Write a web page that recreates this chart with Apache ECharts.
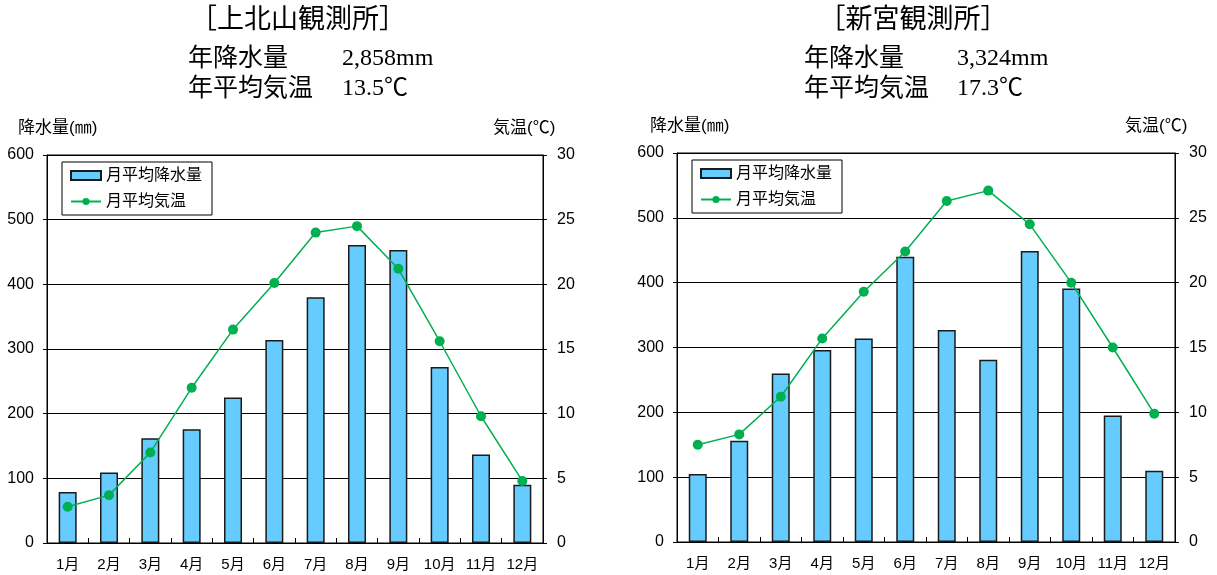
<!DOCTYPE html>
<html>
<head>
<meta charset="utf-8">
<script src="https://cdn.jsdelivr.net/npm/echarts@6/dist/echarts.min.js"></script>
<style>
  html, body { margin: 0; padding: 0; background: #fff; }
  #chart { width: 1217px; height: 575px; }
</style>
</head>
<body>
<div id="chart"></div>
<script>
// Monthly climate normals for two stations
const months = ['1月', '2月', '3月', '4月', '5月', '6月', '7月', '8月', '9月', '10月', '11月', '12月'];

// 上北山観測所
const kamikitayamaRain = [79, 109, 162, 176, 225, 314, 380, 461, 453, 272, 137, 90];   // mm
const kamikitayamaTemp = [2.8, 3.7, 7.0, 12.0, 16.5, 20.1, 24.0, 24.5, 21.2, 15.6, 9.8, 4.8]; // ℃

// 新宮観測所
const shinguRain = [105, 156, 260, 296, 314, 440, 327, 281, 449, 391, 195, 110];        // mm
const shinguTemp = [7.5, 8.3, 11.2, 15.7, 19.3, 22.4, 26.3, 27.1, 24.5, 20.0, 15.0, 9.9]; // ℃

// Header text for each station
const stationNames = ['［上北山観測所］', '［新宮観測所］'];
const annualRainText = ['2,858mm', '3,324mm'];
const annualTempText = ['13.5℃', '17.3℃'];

// Axis ranges
const rainMax = 600, rainStep = 100;
const tempMax = 30, tempStep = 5;

const rainName = '月平均降水量';
const tempName = '月平均気温';

const SERIF = '"Liberation Serif", "Noto Sans CJK JP", serif';
const SANS = '"Liberation Sans", "Noto Sans CJK JP", sans-serif';
const BAR_FILL = '#66CCFF';
const LINE_GREEN = '#00B050';

const grids = [
  { left: 47, top: 155, width: 496, height: 388 },
  { left: 677, top: 153, width: 498, height: 389 }
];

function header(cx, textX, numX, idx) {
  const base = { fill: '#000', fontFamily: SERIF, verticalAlign: 'middle' };
  return [
    { type: 'text', style: Object.assign({}, base, { text: stationNames[idx], x: cx, y: 21, fontSize: 27, align: 'center' }) },
    { type: 'text', style: Object.assign({}, base, { text: '年降水量', x: textX, y: 59, fontSize: 25, align: 'left' }) },
    { type: 'text', style: Object.assign({}, base, { text: annualRainText[idx], x: numX, y: 59, fontSize: 24, align: 'left' }) },
    { type: 'text', style: Object.assign({}, base, { text: '年平均気温', x: textX, y: 89, fontSize: 25, align: 'left' }) },
    { type: 'text', style: Object.assign({}, base, { text: annualTempText[idx], x: numX, y: 89, fontSize: 24, align: 'left' }) }
  ];
}

function axisTitle(text, x, y) {
  return { type: 'text', style: { text: text, x: x, y: y, fill: '#000', fontFamily: SANS, fontSize: 17, verticalAlign: 'middle', align: 'left' } };
}

function xAxisFor(gi) {
  return {
    type: 'category', gridIndex: gi, data: months, boundaryGap: true,
    axisLine: { lineStyle: { color: '#000', width: 1 } },
    axisTick: { show: true, inside: true, length: 5, lineStyle: { color: '#000' } },
    axisLabel: { color: '#000', fontFamily: SANS, fontSize: 15, margin: 14 }
  };
}

function rainAxisFor(gi) {
  return {
    type: 'value', gridIndex: gi, position: 'left', min: 0, max: rainMax, interval: rainStep,
    axisLine: { show: true, lineStyle: { color: '#000' } },
    axisTick: { show: true, length: 4, lineStyle: { color: '#000' } },
    axisLabel: { color: '#000', fontFamily: SANS, fontSize: 16, margin: 13 },
    splitLine: { show: true, lineStyle: { color: '#000', width: 1 } }
  };
}

function tempAxisFor(gi) {
  return {
    type: 'value', gridIndex: gi, position: 'right', min: 0, max: tempMax, interval: tempStep,
    axisLine: { show: true, lineStyle: { color: '#000' } },
    axisTick: { show: true, length: 4, lineStyle: { color: '#000' } },
    axisLabel: { color: '#000', fontFamily: SANS, fontSize: 16, margin: 14 },
    splitLine: { show: false }
  };
}

function legendFor(left, top) {
  return {
    left: left, top: top, orient: 'vertical',
    padding: [4, 10, 4, 8], itemGap: 7,
    itemWidth: 30, itemHeight: 9,
    borderColor: '#000', borderWidth: 1, borderRadius: 0,
    backgroundColor: '#fff',
    textStyle: { color: '#000', fontFamily: SANS, fontSize: 16, lineHeight: 19 },
    data: [{ name: rainName, icon: 'rect' }, { name: tempName }],
    selectedMode: false
  };
}

function barSeries(xi, yi, data) {
  return {
    name: rainName, type: 'bar', xAxisIndex: xi, yAxisIndex: yi, data: data,
    barWidth: 18,
    itemStyle: { color: BAR_FILL, borderColor: '#1a1a1a', borderWidth: 1.5 },
    z: 2
  };
}

function lineSeries(xi, yi, data) {
  return {
    name: tempName, type: 'line', xAxisIndex: xi, yAxisIndex: yi, data: data,
    symbol: 'circle', symbolSize: 10,
    lineStyle: { color: LINE_GREEN, width: 1.5 },
    itemStyle: { color: LINE_GREEN },
    z: 5
  };
}

const chart = echarts.init(document.getElementById('chart'), null, { renderer: 'canvas' });

chart.setOption({
  animation: false,
  backgroundColor: '#fff',
  grid: grids.map(g => Object.assign({ show: true, borderColor: '#000', borderWidth: 1, backgroundColor: 'transparent' }, g)),
  xAxis: [xAxisFor(0), xAxisFor(1)],
  yAxis: [rainAxisFor(0), tempAxisFor(0), rainAxisFor(1), tempAxisFor(1)],
  legend: [legendFor(62, 162), legendFor(692, 160)],
  series: [
    barSeries(0, 0, kamikitayamaRain),
    lineSeries(0, 1, kamikitayamaTemp),
    barSeries(1, 2, shinguRain),
    lineSeries(1, 3, shinguTemp)
  ],
  graphic: [].concat(
    header(298, 188, 342, 0),
    header(913, 804, 957, 1),
    [
      axisTitle('降水量(㎜)', 18, 128),
      axisTitle('気温(℃)', 493, 128),
      axisTitle('降水量(㎜)', 650, 126),
      axisTitle('気温(℃)', 1125, 126)
    ]
  )
});
</script>
</body>
</html>
